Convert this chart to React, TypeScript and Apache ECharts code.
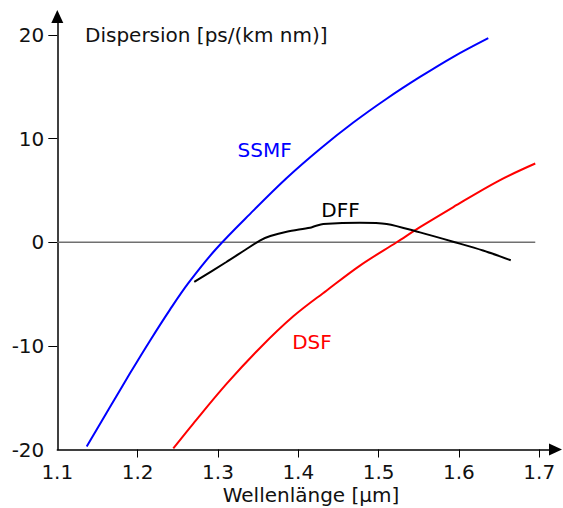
import React, { useEffect, useRef } from "react";
import * as echarts from "echarts";

const xLabelValues = [1.1, 1.2, 1.3, 1.4, 1.5, 1.6, 1.7];
const xTickValues = [1.2, 1.3, 1.4, 1.5, 1.6, 1.7];
const yLabelValues = [-20, -10, 0, 10, 20];
const yTickValues = [-10, 0, 10, 20];

const ssmf: [number, number][] = [
  [1.1366, -19.7], [1.1656, -15.9], [1.1905, -12.65], [1.2154, -9.5], [1.2403, -6.5],
  [1.2631, -3.95], [1.2976, -0.65], [1.344, 3.05], [1.3856, 6.2], [1.427, 9.0],
  [1.4685, 11.55], [1.51, 13.85], [1.5515, 15.95], [1.593, 17.9], [1.6365, 19.7],
];

const dsf: [number, number][] = [
  [1.2444, -19.9], [1.2693, -17.5], [1.3109, -13.65], [1.3523, -10.2], [1.3938, -7.15],
  [1.4354, -4.65], [1.4768, -2.25], [1.5225, 0], [1.5515, 1.45], [1.593, 3.4],
  [1.65, 5.95], [1.695, 7.6],
];

const dff: [number, number][] = [
  [1.2705, -3.83], [1.31, -1.93], [1.3337, -0.75], [1.3527, 0.19], [1.3652, 0.6],
  [1.3856, 1.02], [1.4146, 1.4], [1.4214, 1.57], [1.4311, 1.75], [1.4768, 1.89],
  [1.51, 1.77], [1.5515, 0.95], [1.595, 0], [1.63, -0.8], [1.6645, -1.74],
];

const zeroLine: [number, number][] = [[1.1, 0], [1.695, 0]];

const FONT = "DejaVu Sans";

export default function App() {
  const ref = useRef<HTMLDivElement>(null);
  useEffect(() => {
    if (!ref.current) return;
    const chart = echarts.init(ref.current, undefined, { renderer: "svg" });
    const axisLineStyle = { color: "#000", width: 1.5 };
    chart.setOption({
      animation: false,
      grid: { left: 57.3, top: 16.5, width: 498.2, height: 433, containLabel: false },
      xAxis: {
        type: "value",
        min: 1.1,
        max: 1.7202,
        splitLine: { show: false },
        axisLine: {
          show: true,
          onZero: false,
          lineStyle: axisLineStyle,
          symbol: ["none", "triangle"],
          symbolSize: [12, 13],
        },
        axisTick: { show: true, customValues: xTickValues, length: 8, lineStyle: { color: "#000", width: 1 } },
        axisLabel: {
          customValues: xLabelValues,
          formatter: (v: number) => v.toFixed(1),
          fontFamily: FONT,
          fontSize: 20,
          color: "#111",
          margin: 12,
        },
      },
      yAxis: {
        type: "value",
        min: -20,
        max: 21.785,
        splitLine: { show: false },
        axisLine: {
          show: true,
          onZero: false,
          lineStyle: axisLineStyle,
          symbol: ["none", "triangle"],
          symbolSize: [12, 13],
        },
        axisTick: { show: true, customValues: yTickValues, length: 9, lineStyle: { color: "#000", width: 1 } },
        axisLabel: {
          customValues: yLabelValues,
          formatter: (v: number) => String(v),
          fontFamily: FONT,
          fontSize: 20,
          color: "#111",
          margin: 13,
        },
      },
      series: [
        {
          type: "line",
          data: zeroLine,
          showSymbol: false,
          lineStyle: { color: "#707070", width: 1.5 },
          z: 1,
          silent: true,
        },
        {
          type: "line",
          data: ssmf,
          showSymbol: false,
          smooth: 0.35,
          lineStyle: { color: "#0000ff", width: 2 },
          z: 3,
        },
        {
          type: "line",
          data: dsf,
          showSymbol: false,
          smooth: 0.35,
          lineStyle: { color: "#ff0000", width: 2 },
          z: 3,
        },
        {
          type: "line",
          data: dff,
          showSymbol: false,
          smooth: 0.3,
          lineStyle: { color: "#000000", width: 2 },
          z: 3,
        },
      ],
      graphic: [
        {
          type: "text",
          left: 85,
          top: 25,
          style: { text: "Dispersion [ps/(km nm)]", font: `20px "${FONT}"`, fill: "#111" },
        },
        {
          type: "text",
          x: 311,
          y: 495,
          style: { text: "Wellenlänge [µm]", font: `20px "${FONT}"`, fill: "#111", align: "center", verticalAlign: "middle" },
        },
        {
          type: "text",
          x: 264.7,
          y: 150,
          style: { text: "SSMF", font: `20px "${FONT}"`, fill: "#0000ff", align: "center", verticalAlign: "middle" },
        },
        {
          type: "text",
          x: 340.5,
          y: 210,
          style: { text: "DFF", font: `20px "${FONT}"`, fill: "#000", align: "center", verticalAlign: "middle" },
        },
        {
          type: "text",
          x: 312,
          y: 342,
          style: { text: "DSF", font: `20px "${FONT}"`, fill: "#ff0000", align: "center", verticalAlign: "middle" },
        },
      ],
    });
    return () => chart.dispose();
  }, []);
  return (
    <div
      ref={ref}
      style={{ position: "fixed", left: 0, top: 0, width: 563, height: 508, background: "#fff" }}
    />
  );
}
